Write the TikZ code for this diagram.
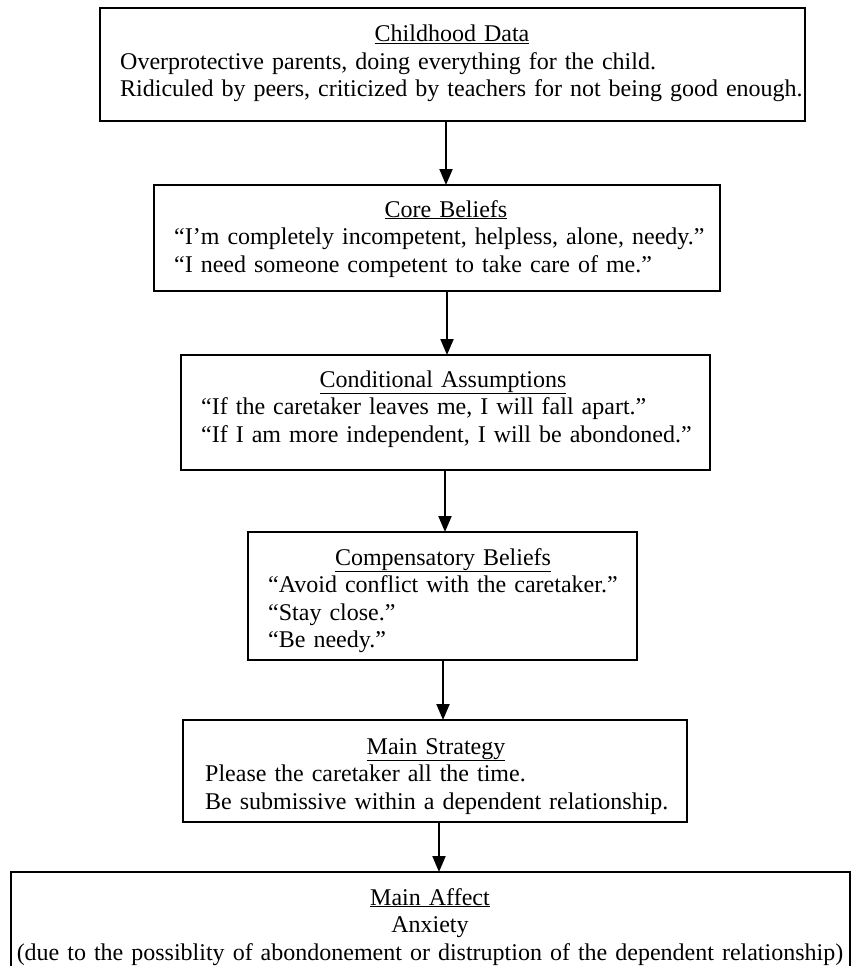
\documentclass[tikz,border=0pt]{standalone}
\usepackage{fontspec}
\setmainfont{Liberation Serif}
\usepackage{tikz}
\usetikzlibrary{
  arrows.meta,
  positioning,
  calc
}
\newcommand{\cbfont}{\fontsize{24}{27.5}\selectfont}
\tikzset{
  cbnode/.style={
    draw, line width=2pt, inner sep=0pt, outer sep=0pt, anchor=north west
  },
  cbhead/.style={font=\cbfont, inner sep=0pt, text width=840pt, align=center, anchor=base},
  cbtext/.style={font=\cbfont, inner sep=0pt, text width=700pt, align=left, anchor=base west},
  cbflow/.style={-{Triangle[length=16pt, width=13pt]}, line width=2pt}
}

\begin{document}
\begin{tikzpicture}[x=1pt, y=-1pt]
  \useasboundingbox (0,0) rectangle (856,966);
  % boxes
  \node[cbnode, minimum width=705pt, minimum height=113pt] (child) at (100,8) {};
  \node[cbnode, minimum width=566pt, minimum height=106pt] (core) at (154,185) {};
  \node[cbnode, minimum width=529pt, minimum height=115pt] (cond) at (181,355) {};
  \node[cbnode, minimum width=389pt, minimum height=128pt] (comp) at (248,532) {};
  \node[cbnode, minimum width=504pt, minimum height=102pt] (strat) at (183,720) {};
  \node[cbnode, minimum width=839pt, minimum height=200pt] (affect) at (11,872) {};
  % texts
  \node[cbhead] (childT) at (452,42) {\underline{Childhood Data}};
  \node[cbtext] (childB) at (120,69.5)
    {Overprotective parents, doing everything for the child.\\
     Ridiculed by peers, criticized by teachers for not being good enough.};
  \node[cbhead] (coreT) at (446,217) {\underline{Core Beliefs}};
  \node[cbtext] (coreB) at (174,244.5)
    {“I’m completely incompetent, helpless, alone, needy.”\\
     “I need someone competent to take care of me.”};
  \node[cbhead] (condT) at (443,387) {\underline{Conditional Assumptions}};
  \node[cbtext] (condB) at (201,414.5)
    {“If the caretaker leaves me, I will fall apart.”\\
     “If I am more independent, I will be abondoned.”};
  \node[cbhead] (compT) at (443,565) {\underline{Compensatory Beliefs}};
  \node[cbtext] (compB) at (268,592.5)
    {“Avoid conflict with the caretaker.”\\
     “Stay close.”\\
     “Be needy.”};
  \node[cbhead] (stratT) at (436,754) {\underline{Main Strategy}};
  \node[cbtext] (stratB) at (205,781.5)
    {Please the caretaker all the time.\\
     Be submissive within a dependent relationship.};
  \node[cbhead] (affectT) at (430,905)
    {\underline{Main Affect}\\
     Anxiety\\
     (due to the possiblity of abondonement or distruption of the dependent relationship)};
  % arrows
  \draw[cbflow] ([xshift=-6.5pt]child.south) -- ([xshift=-6.5pt]child.south |- core.north);
  \draw[cbflow] ([xshift=10pt]core.south) -- ([xshift=10pt]core.south |- cond.north);
  \draw[cbflow] ([xshift=-0.5pt]cond.south) -- ([xshift=-0.5pt]cond.south |- comp.north);
  \draw[cbflow] ([xshift=0.5pt]comp.south) -- ([xshift=0.5pt]comp.south |- strat.north);
  \draw[cbflow] ([xshift=4pt]strat.south) -- ([xshift=4pt]strat.south |- affect.north);
\end{tikzpicture}
\end{document}
